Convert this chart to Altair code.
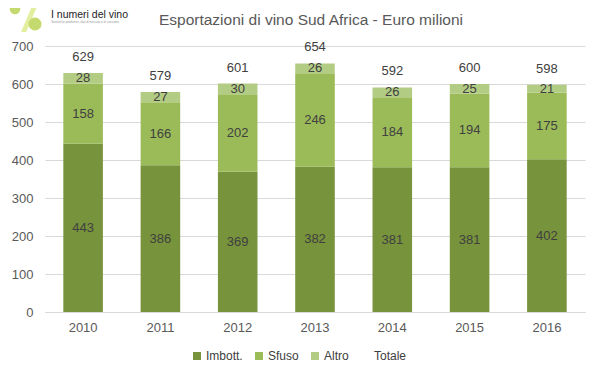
import altair as alt
import pandas as pd

years = ["2010", "2011", "2012", "2013", "2014", "2015", "2016"]
imbott = [443, 386, 369, 382, 381, 381, 402]
sfuso = [158, 166, 202, 246, 184, 194, 175]
altro = [28, 27, 30, 26, 26, 25, 21]
totale = [629, 579, 601, 654, 592, 600, 598]

series = ["Imbott.", "Sfuso", "Altro", "Totale"]
colors = ["#77933C", "#9BBB59", "#B3CC84", "transparent"]

rows = []
for i, y in enumerate(years):
    for k, (name, vals) in enumerate([("Imbott.", imbott), ("Sfuso", sfuso), ("Altro", altro)]):
        rows.append({"year": y, "serie": name, "value": vals[i], "ord": k})
df = pd.DataFrame(rows)
tot_df = pd.DataFrame({"year": years, "value": totale})

FONT = "Liberation Sans"

x_scale = alt.Scale(paddingInner=0.488, paddingOuter=0.237)
y_scale = alt.Scale(domain=[0, 700])
x_axis = alt.Axis(labelAngle=0, labelFontSize=13, labelColor="#595959",
                  labelFont=FONT, ticks=False, domainColor="#D9D9D9",
                  labelPadding=9, grid=False)
y_axis = alt.Axis(values=[0, 100, 200, 300, 400, 500, 600, 700], labelFontSize=13,
                  labelColor="#595959", labelFont=FONT, ticks=False,
                  domain=False, gridColor="#D9D9D9", labelPadding=12)

base = alt.Chart(df)

bars = base.mark_bar().encode(
    x=alt.X("year:N", title=None, scale=x_scale, axis=x_axis),
    y=alt.Y("value:Q", stack="zero", scale=y_scale, title=None, axis=y_axis),
    color=alt.Color("serie:N",
                    scale=alt.Scale(domain=series, range=colors),
                    legend=alt.Legend(title=None, orient="none", direction="horizontal",
                                      legendX=146, legendY=304, symbolType="square",
                                      symbolSize=64, labelFontSize=12, labelFont=FONT,
                                      labelColor="#404040", columnPadding=10,
                                      labelOffset=3, padding=0, gridAlign="none",
                                      symbolStrokeWidth=0)),
    order=alt.Order("ord:Q"),
)

seg_labels = base.transform_stack(
    stack="value", as_=["y0", "y1"], groupby=["year"], sort=[alt.SortField("ord")]
).transform_calculate(
    mid="(datum.y0 + datum.y1) / 2"
).mark_text(fontSize=13, font=FONT, color="#404040", baseline="middle").encode(
    x=alt.X("year:N", title=None, scale=x_scale, axis=x_axis),
    y=alt.Y("mid:Q", scale=y_scale, title=None, axis=y_axis),
    text="value:Q",
)

tot_labels = alt.Chart(tot_df).mark_text(fontSize=13, font=FONT, color="#404040",
                                         baseline="middle", dy=-16).encode(
    x=alt.X("year:N", title=None, scale=x_scale, axis=x_axis),
    y=alt.Y("value:Q", scale=y_scale, title=None, axis=y_axis),
    text="value:Q",
)

title = alt.Chart(pd.DataFrame({"t": ["Esportazioni di vino Sud Africa - Euro milioni"]})).mark_text(
    fontSize=15.5, font=FONT, color="#595959", align="center", baseline="middle").encode(
    x=alt.value(266), y=alt.value(-26), text="t:N")
logo = alt.Chart(pd.DataFrame({"t": ["I numeri del vino"]})).mark_text(
    fontSize=10.5, font=FONT, color="#222222", align="left", baseline="middle").encode(
    x=alt.value(6), y=alt.value(-31.5), text="t:N")
logo_sub = alt.Chart(pd.DataFrame({"t": ["Statistiche produttive, dati di mercato e di consumo"]})).mark_text(
    fontSize=3, font=FONT, color="#999999", align="left", baseline="middle").encode(
    x=alt.value(6), y=alt.value(-24), text="t:N")
stripe = alt.Chart(pd.DataFrame({"a": [1]})).mark_point(
    filled=True, size=900, color="#E3EEA0", opacity=1,
    shape="M 0.25 -1 L 0.6 -1 L -0.25 1 L -0.6 1 Z").encode(
    x=alt.value(-15), y=alt.value(-29))
grape1 = alt.Chart(pd.DataFrame({"a": [1]})).mark_point(
    filled=True, shape="circle", size=110, color="#C5DA6E", opacity=1).encode(
    x=alt.value(-30), y=alt.value(-37))
grape2 = alt.Chart(pd.DataFrame({"a": [1]})).mark_point(
    filled=True, shape="circle", size=170, color="#C5DA6E", opacity=1).encode(
    x=alt.value(-10), y=alt.value(-22))

chart = alt.layer(bars, seg_labels, tot_labels, title, stripe, grape1, grape2, logo, logo_sub).properties(
    width=540, height=266,
    autosize=alt.AutoSizeParams(type="none"),
    padding={"left": 37, "top": 38, "right": 6, "bottom": 60},
).configure_view(stroke=None)

chart.save("out.html", embed_options={"renderer": "svg", "actions": False})
